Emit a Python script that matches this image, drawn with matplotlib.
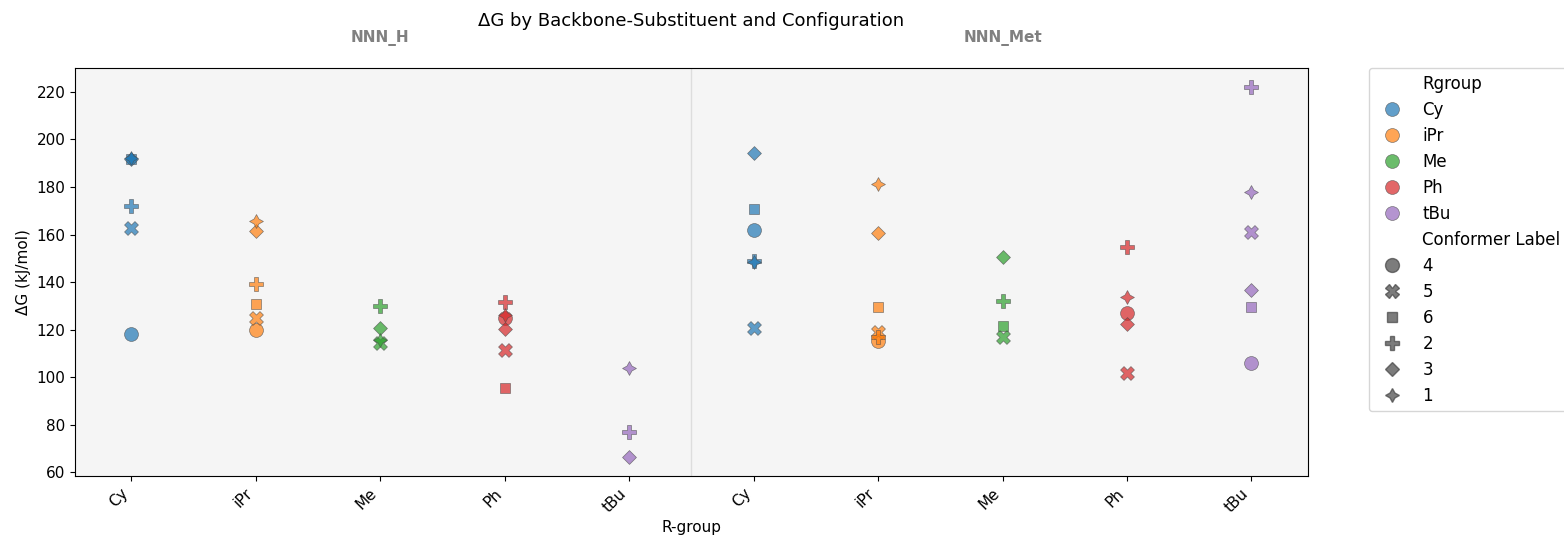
import matplotlib
matplotlib.use("Agg")
import matplotlib.pyplot as plt
from matplotlib.lines import Line2D

# ── data ──────────────────────────────────────────────────────────────
backbones = ["NNN_H", "NNN_Met"]
rgroups = ["Cy", "iPr", "Me", "Ph", "tBu"]
conformers = ["4", "5", "6", "2", "3", "1"]

point_backbone = (
    ["NNN_H"] * 6 + ["NNN_H"] * 6 + ["NNN_H"] * 4 + ["NNN_H"] * 6 + ["NNN_H"] * 3
    + ["NNN_Met"] * 6 + ["NNN_Met"] * 6 + ["NNN_Met"] * 4 + ["NNN_Met"] * 5 + ["NNN_Met"] * 6
)
point_rgroup = (
    ["Cy"] * 6 + ["iPr"] * 6 + ["Me"] * 4 + ["Ph"] * 6 + ["tBu"] * 3
    + ["Cy"] * 6 + ["iPr"] * 6 + ["Me"] * 4 + ["Ph"] * 5 + ["tBu"] * 6
)
point_conf = [
    "4", "5", "6", "2", "3", "1",
    "4", "5", "6", "2", "3", "1",
    "5", "2", "3", "1",
    "4", "5", "6", "2", "3", "1",
    "2", "3", "1",
    "4", "5", "6", "2", "3", "1",
    "4", "5", "6", "2", "3", "1",
    "5", "6", "2", "3",
    "4", "5", "2", "3", "1",
    "4", "5", "6", "2", "3", "1",
]
point_dg = [
    118.1, 162.7, 191.6, 172.1, 191.8, 192.0,
    120.0, 124.9, 131.0, 139.4, 161.3, 165.5,
    114.6, 130.1, 120.7, 115.6,
    125.1, 111.6, 95.3, 131.7, 120.5, 126.0,
    77.2, 66.3, 104.1,
    162.0, 120.8, 170.7, 149.0, 194.2, 148.3,
    115.3, 118.9, 129.4, 117.0, 160.5, 181.1,
    116.8, 121.4, 131.9, 150.4,
    127.0, 102.0, 154.7, 122.6, 133.8,
    105.8, 160.9, 129.5, 222.2, 136.5, 178.0,
]

# ── styling ──────────────────────────────────────────────────────────
colors = {"Cy": "#1f77b4", "iPr": "#ff7f0e", "Me": "#2ca02c",
          "Ph": "#d62728", "tBu": "#9467bd"}
markers = {"4": "o", "5": "X", "6": (4, 0, 45), "2": "P",
           "3": (4, 0, 0), "1": (4, 1, 0)}

fig, ax = plt.subplots(figsize=(15.64, 5.44), dpi=100)
fig.subplots_adjust(left=0.048, right=0.836, top=0.875, bottom=0.125)
ax.set_facecolor("#f5f5f5")

tick_labels = [r for b in backbones for r in rgroups]
for b, r, c, dg in zip(point_backbone, point_rgroup, point_conf, point_dg):
    x = backbones.index(b) * len(rgroups) + rgroups.index(r)
    ax.scatter(x, dg, s=100, marker=markers[c], color=colors[r],
               alpha=0.7, edgecolor="0.3", linewidth=0.5, zorder=3)

ax.axvline(len(rgroups) - 0.5, color="#dddddd", linewidth=1, zorder=1)
ax.set_xticks(range(len(tick_labels)))
ax.set_xticklabels(tick_labels, rotation=45, ha="right", fontsize=11)
ax.tick_params(axis="y", labelsize=11)
ax.set_xlabel("R-group", fontsize=11)
ax.set_ylabel("ΔG (kJ/mol)", fontsize=11)
ax.set_title("ΔG by Backbone-Substituent and Configuration", fontsize=13, pad=30)

for i, b in enumerate(backbones):
    ax.text(i * len(rgroups) + (len(rgroups) - 1) / 2, 1.055, b,
            transform=ax.get_xaxis_transform(), ha="center", va="bottom",
            fontsize=11, fontweight="bold", color="gray")

# legend in seaborn style (section titles as blank entries)
blank = Line2D([], [], linestyle="none", marker=None)
handles, labels = [blank], ["Rgroup"]
for r in rgroups:
    handles.append(Line2D([], [], linestyle="none", marker="o", markersize=10,
                          markerfacecolor=colors[r], markeredgecolor="0.3",
                          markeredgewidth=0.5, alpha=0.7))
    labels.append(r)
handles.append(blank)
labels.append("Conformer Label")
for c in conformers:
    handles.append(Line2D([], [], linestyle="none", marker=markers[c], markersize=10,
                          markerfacecolor="#444444", markeredgecolor="#444444",
                          alpha=0.7))
    labels.append(c)
ax.legend(handles, labels, loc="upper left", bbox_to_anchor=(1.05, 1.0),
          fontsize=12, frameon=True, borderaxespad=0.0, handletextpad=0.8,
          labelspacing=0.48)

fig.savefig("out.png", dpi=100)
